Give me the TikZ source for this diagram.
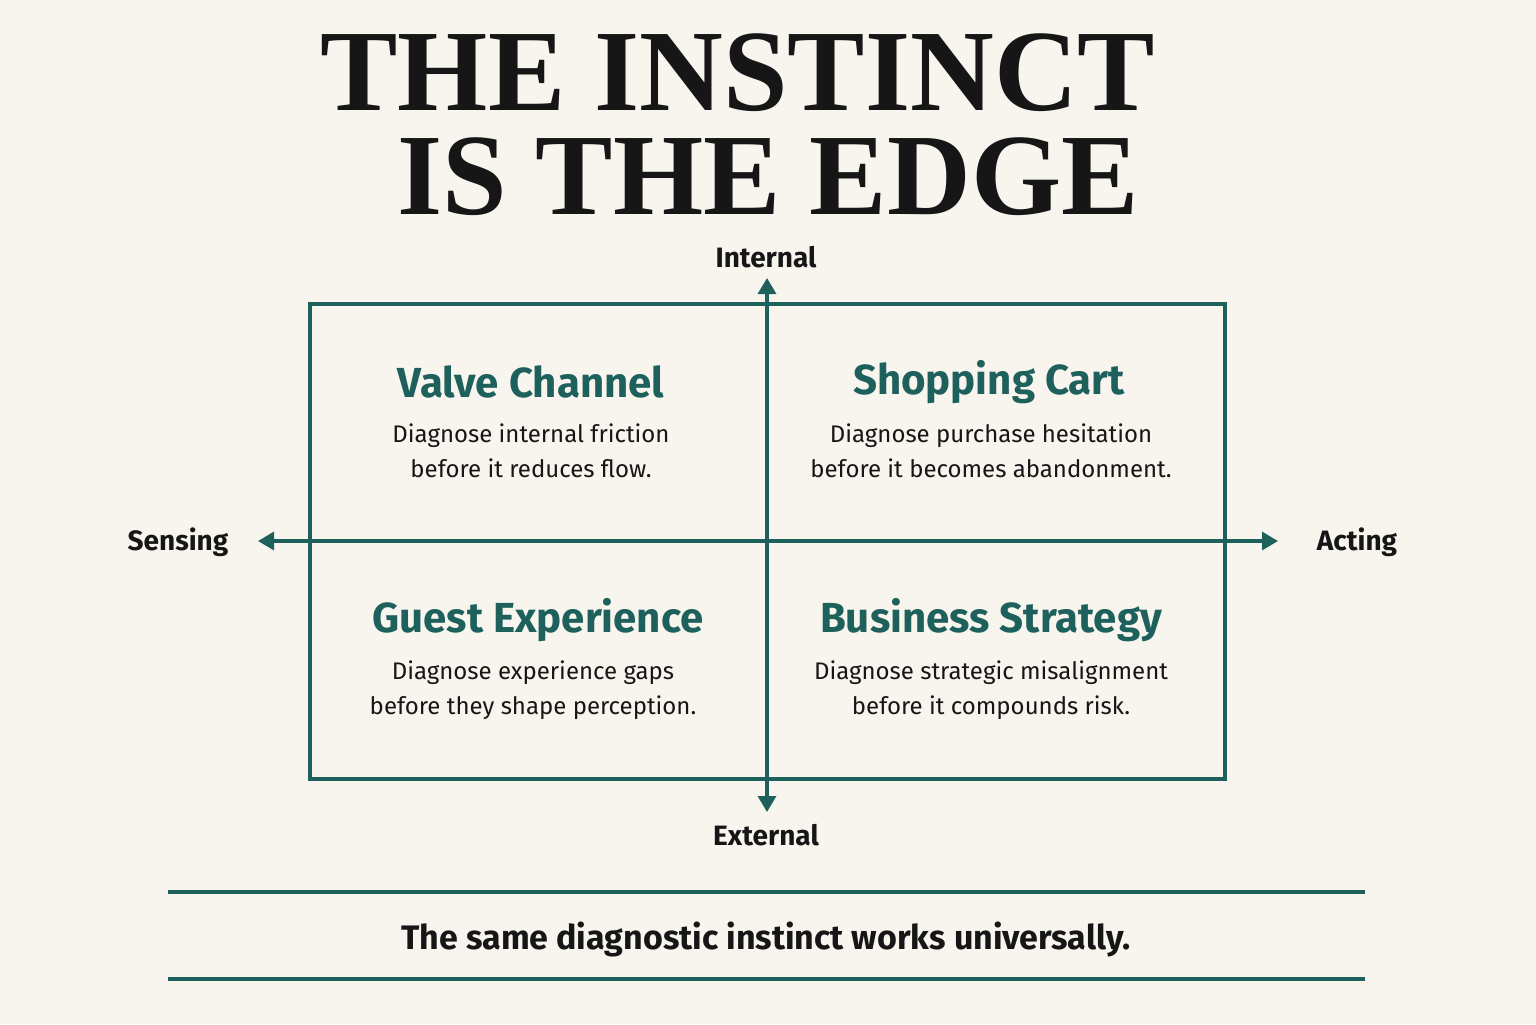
\documentclass[tikz,border=0pt]{standalone}
\usepackage{fontspec}
\setmainfont{Fira Sans}
\newfontfamily\titlefont{Liberation Serif}
\usetikzlibrary{arrows.meta}
\definecolor{bg}{HTML}{F8F5EF}
\definecolor{teal}{HTML}{1E605B}
\definecolor{ink}{HTML}{161616}
\begin{document}
\begin{tikzpicture}[x=0.5pt,y=-0.5pt,
  ttl/.style={font=\titlefont\bfseries\fontsize{58}{58}\selectfont,text=ink,anchor=base,inner sep=0pt,text height=0.68em,text depth=0pt},
  head/.style={font=\fontsize{21}{23}\selectfont\bfseries,text=teal},
  body/.style={font=\fontsize{12}{17.5}\selectfont,text=ink,align=center},
  ax/.style={font=\fontsize{14}{16}\selectfont\bfseries,text=ink},
  ln/.style={draw=teal,line width=1.6pt},
  arr/.style={ln,-{Triangle[length=8pt,width=9pt]}}]
\fill[bg] (0,0) rectangle (1536,1024);
\useasboundingbox (0,0) rectangle (1536,1024);
\node[ttl] (t1) at (738,110) {THE INSTINCT};
\node[ttl] (t2) at (768,214) {IS THE EDGE};
\draw[ln] (310,304) rectangle (1225,779);
\coordinate (c) at (767,541);
\coordinate (up) at (767,278);
\coordinate (dn) at (767,812);
\coordinate (lf) at (258,541);
\coordinate (rt) at (1278,541);
\draw[arr] (c) -- (up);
\draw[arr] (c) -- (dn);
\draw[arr] (c) -- (lf);
\draw[arr] (c) -- (rt);
\node[ax] (li) at (766,257) {Internal};
\node[ax] (le) at (766,835) {External};
\node[ax] (ls) at (178,542) {Sensing};
\node[ax] (la) at (1357,542) {Acting};
\node[head] (h1) at (531,382) {Valve Channel};
\node[body] (b1) at (531,451) {Diagnose internal friction\\before it reduces flow.};
\node[head] (h2) at (989,382) {Shopping Cart};
\node[body] (b2) at (991,451) {Diagnose purchase hesitation\\before it becomes abandonment.};
\node[head] (h3) at (538,620) {Guest Experience};
\node[body] (b3) at (533,690) {Diagnose experience gaps\\before they shape perception.};
\node[head] (h4) at (991,620) {Business Strategy};
\node[body] (b4) at (991,690) {Diagnose strategic misalignment\\before it compounds risk.};
\draw[ln] (168,892) -- (1365,892);
\draw[ln] (168,979) -- (1365,979);
\node[font=\fontsize{17}{20}\selectfont\bfseries,text=ink] (ft) at (766,939) {The same diagnostic instinct works universally.};
\end{tikzpicture}
\end{document}
